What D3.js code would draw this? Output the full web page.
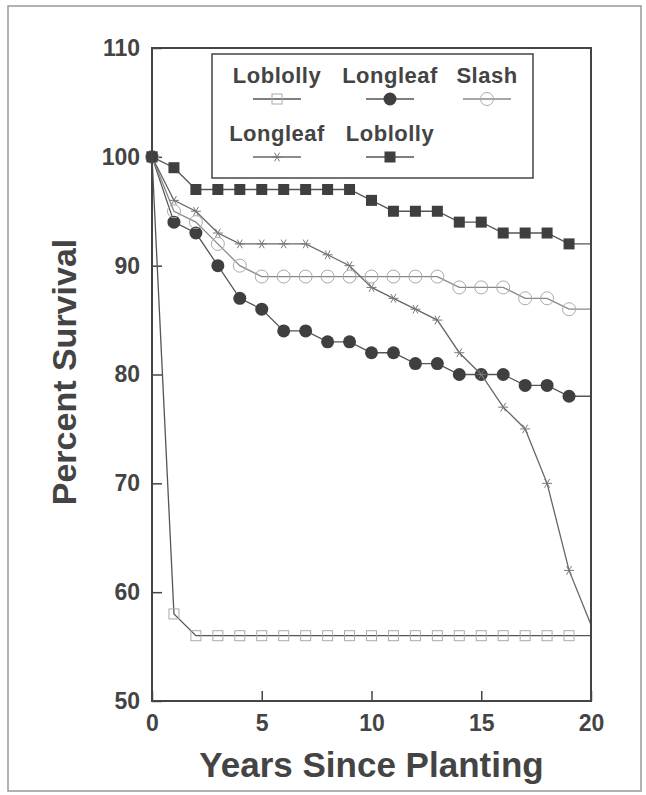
<!DOCTYPE html>
<html>
<head>
<meta charset="utf-8">
<script src="https://cdn.jsdelivr.net/npm/d3@7"></script>
<style>
  body { margin: 0; background: #fff; }
  svg { display: block; }
  text { font-family: "Liberation Sans", Arial, sans-serif; font-weight: bold; fill: #444; }
</style>
</head>
<body>
<svg id="chart" width="646" height="795"></svg>
<script>
// years since planting
var years = [0, 1, 2, 3, 4, 5, 6, 7, 8, 9, 10, 11, 12, 13, 14, 15, 16, 17, 18, 19, 20];

// percent survival
var loblollyOpen   = [100, 58, 56, 56, 56, 56, 56, 56, 56, 56, 56, 56, 56, 56, 56, 56, 56, 56, 56, 56, 56];
var longleafFilled = [100, 94, 93, 90, 87, 86, 84, 84, 83, 83, 82, 82, 81, 81, 80, 80, 80, 79, 79, 78, 78];
var slashOpen      = [100, 95, 94, 92, 90, 89, 89, 89, 89, 89, 89, 89, 89, 89, 88, 88, 88, 87, 87, 86, 86];
var longleafStar   = [100, 96, 95, 93, 92, 92, 92, 92, 91, 90, 88, 87, 86, 85, 82, 80, 77, 75, 70, 62, 57];
var loblollyFilled = [100, 99, 97, 97, 97, 97, 97, 97, 97, 97, 96, 95, 95, 95, 94, 94, 93, 93, 93, 92, 92];

var legendNames = ["Loblolly", "Longleaf", "Slash", "Longleaf", "Loblolly"];
var yTicks = [50, 60, 70, 80, 90, 100, 110];
var xTicks = [0, 5, 10, 15, 20];

var series = [
  {name: legendNames[0], values: loblollyOpen,   marker: "openSquare",   line: "#555"},
  {name: legendNames[1], values: longleafFilled, marker: "filledCircle", line: "#555"},
  {name: legendNames[2], values: slashOpen,      marker: "openCircle",   line: "#888"},
  {name: legendNames[3], values: longleafStar,   marker: "star",         line: "#666"},
  {name: legendNames[4], values: loblollyFilled, marker: "filledSquare", line: "#555"}
];

var svg = d3.select("#chart");

// scanned page border
svg.append("rect")
  .attr("x", 8).attr("y", 6).attr("width", 633).attr("height", 785)
  .attr("fill", "none").attr("stroke", "#999").attr("stroke-width", 1.5);

var x = d3.scaleLinear().domain([0, 20]).range([152, 591]);
var y = d3.scaleLinear().domain([50, 110]).range([701, 48]);

var yAxis = svg.append("g")
  .attr("transform", "translate(" + x(0) + ",0)")
  .call(d3.axisLeft(y).tickValues(yTicks).tickSize(-10).tickPadding(12).tickSizeOuter(0));
var xAxis = svg.append("g")
  .attr("transform", "translate(0," + y(50) + ")")
  .call(d3.axisBottom(x).tickValues(xTicks).tickSize(-10).tickPadding(14).tickSizeOuter(0));

[yAxis, xAxis].forEach(function(g) {
  g.select(".domain").remove();
  g.selectAll(".tick line").attr("stroke", "#444").attr("stroke-width", 1.5);
  g.selectAll(".tick text").style("font-size", "23px").attr("fill", "#444");
});

function drawMarker(sel, type) {
  if (type == "filledCircle") {
    sel.append("circle").attr("r", 6.5).attr("fill", "#3f3f3f");
  } else if (type == "openCircle") {
    sel.append("circle").attr("r", 6.5).attr("fill", "none").attr("stroke", "#aaa").attr("stroke-width", 1);
  } else if (type == "filledSquare") {
    sel.append("rect").attr("x", -5.5).attr("y", -5.5).attr("width", 11).attr("height", 11).attr("fill", "#3f3f3f");
  } else if (type == "openSquare") {
    sel.append("rect").attr("x", -5).attr("y", -5).attr("width", 10).attr("height", 10)
      .attr("fill", "none").attr("stroke", "#aaa").attr("stroke-width", 1);
  } else if (type == "star") {
    sel.append("path").attr("d", d3.symbol(d3.symbolAsterisk, 70)())
      .attr("transform", "rotate(90)")
      .attr("fill", "none").attr("stroke", "#777").attr("stroke-width", 1);
  }
}

var line = d3.line()
  .x(function(d, i) { return x(years[i]); })
  .y(function(d) { return y(d); });

series.forEach(function(s) {
  svg.append("path")
    .datum(s.values)
    .attr("d", line)
    .attr("fill", "none")
    .attr("stroke", s.line)
    .attr("stroke-width", 1.3);

  // markers at every year except the last one
  svg.selectAll(null)
    .data(s.values.slice(0, s.values.length - 1))
    .enter().append("g")
    .attr("transform", function(d, i) { return "translate(" + x(years[i]) + "," + y(d) + ")"; })
    .each(function() { drawMarker(d3.select(this), s.marker); });
});

// plot frame
svg.append("rect")
  .attr("x", x(0)).attr("y", y(110))
  .attr("width", x(20) - x(0)).attr("height", y(50) - y(110))
  .attr("fill", "none").attr("stroke", "#444").attr("stroke-width", 2);

// legend
var legend = svg.append("g");
legend.append("rect")
  .attr("x", 212).attr("y", 54).attr("width", 321).attr("height", 124)
  .attr("fill", "#fff").attr("stroke", "#444").attr("stroke-width", 1.5);

var legendX = [277, 390, 487, 277, 390];
var legendRow = [0, 0, 0, 1, 1];

series.forEach(function(s, i) {
  var g = legend.append("g")
    .attr("transform", "translate(" + legendX[i] + "," + (83 + legendRow[i] * 58) + ")");
  g.append("text")
    .attr("text-anchor", "middle")
    .style("font-size", "22px")
    .style("letter-spacing", "0.5px")
    .text(s.name);
  g.append("line")
    .attr("x1", -24).attr("x2", 24).attr("y1", 16).attr("y2", 16)
    .attr("stroke", s.line).attr("stroke-width", 1.3);
  var m = g.append("g").attr("transform", "translate(0,16)");
  drawMarker(m, s.marker);
});

// axis titles
svg.append("text")
  .attr("x", (x(0) + x(20)) / 2).attr("y", 777)
  .attr("text-anchor", "middle")
  .style("font-size", "35px")
  .text("Years Since Planting");

svg.append("text")
  .attr("transform", "translate(76," + 372 + ") rotate(-90)")
  .attr("text-anchor", "middle")
  .style("font-size", "34px")
  .text("Percent Survival");
</script>
</body>
</html>
